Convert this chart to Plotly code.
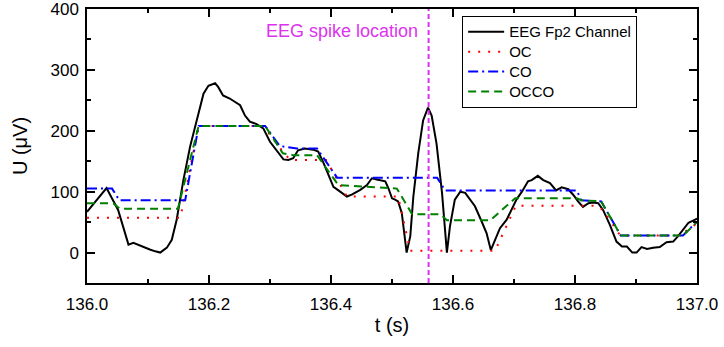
import plotly.graph_objects as go

# ---- data ----
eeg_t = [136.000, 136.032, 136.051, 136.068, 136.076, 136.090, 136.103, 136.112, 136.120, 136.131,
         136.139, 136.147, 136.158, 136.169, 136.180, 136.191, 136.199, 136.210, 136.215, 136.223,
         136.234, 136.251, 136.259, 136.267, 136.278, 136.289, 136.300, 136.314, 136.322, 136.330,
         136.338, 136.346, 136.357, 136.371, 136.379, 136.387, 136.396, 136.404, 136.415, 136.426,
         136.434, 136.448, 136.459, 136.467, 136.475, 136.489, 136.494, 136.500, 136.505, 136.510,
         136.516, 136.520, 136.524, 136.530, 136.535, 136.543, 136.551, 136.559, 136.565, 136.573,
         136.582, 136.590, 136.595, 136.603, 136.612, 136.620, 136.628, 136.636, 136.647, 136.655,
         136.662, 136.669, 136.677, 136.688, 136.696, 136.704, 136.713, 136.723, 136.729, 136.739,
         136.748, 136.759, 136.769, 136.778, 136.789, 136.797, 136.805, 136.813, 136.822, 136.830,
         136.838, 136.846, 136.857, 136.868, 136.877, 136.885, 136.894, 136.901, 136.909, 136.918,
         136.928, 136.939, 136.950, 136.961, 136.969, 136.978, 136.986, 136.997, 137.000]
eeg_u = [67, 106, 70, 13, 16, 10, 5, 2, 0, 8,
         21, 54, 119, 174, 217, 261, 274, 278, 272, 258,
         253, 242, 225, 215, 211, 204, 182, 163, 153, 152,
         155, 168, 171, 169, 166, 149, 127, 108, 100, 92,
         95, 103, 111, 122, 120, 117, 106, 89, 87, 84,
         65, 27, 0, 27, 92, 163, 217, 238, 225, 179,
         98, 0, 43, 87, 100, 98, 86, 76, 51, 32,
         4, 21, 40, 54, 70, 87, 100, 117, 119, 126,
         119, 114, 102, 107, 104, 95, 84, 75, 81, 82,
         81, 70, 46, 18, 10, 10, 0, 0, 9, 6,
         8, 9, 17, 18, 27, 38, 49, 54, 56]

oc_t = [136.000, 136.153, 136.183, 136.289, 136.318, 136.333, 136.392, 136.426, 136.510, 136.530,
        136.669, 136.703, 136.834, 136.846, 136.874, 136.972, 137.000]
oc_u = [57, 57, 208, 208, 170, 152, 152, 92, 92, 3,
        3, 77, 77, 70, 28, 28, 48]

co_t = [136.000, 136.041, 136.053, 136.161, 136.183, 136.292, 136.316, 136.344, 136.377, 136.410,
        136.574, 136.587, 136.803, 136.810, 136.843, 136.875, 136.977, 137.000]
co_u = [105, 105, 86, 86, 208, 208, 175, 171, 171, 123,
        123, 102, 102, 86, 84, 28, 28, 51]

occo_t = [136.000, 136.043, 136.054, 136.149, 136.183, 136.292, 136.321, 136.338, 136.377, 136.412,
          136.508, 136.533, 136.579, 136.590, 136.661, 136.702, 136.803, 136.810, 136.843, 136.875,
          136.977, 137.000]
occo_u = [81, 81, 72, 72, 208, 208, 163, 160, 160, 111,
          105, 63, 63, 53, 53, 89, 89, 86, 84, 28,
          28, 50]

series_names = ["EEG Fp2 Channel", "OC", "CO", "OCCO"]

spike_t = 136.56
spike_label = "EEG spike location"

FONT = "Liberation Sans, Arial, sans-serif"


def legend_name(s):
    return '<span style="font-size:15px">%s</span>' % s


fig = go.Figure()
fig.add_trace(go.Scatter(x=eeg_t, y=eeg_u, mode="lines", name=legend_name(series_names[0]),
                         line=dict(color="black", width=2)))
fig.add_trace(go.Scatter(x=oc_t, y=oc_u, mode="lines", name=legend_name(series_names[1]),
                         line=dict(color="#FF0000", width=2, dash="2px,8px")))
fig.add_trace(go.Scatter(x=co_t, y=co_u, mode="lines", name=legend_name(series_names[2]),
                         line=dict(color="#0000FF", width=2, dash="10px,4px,2px,4px")))
fig.add_trace(go.Scatter(x=occo_t, y=occo_u, mode="lines", name=legend_name(series_names[3]),
                         line=dict(color="#008000", width=2, dash="8px,5px")))

fig.add_shape(type="line", x0=spike_t, x1=spike_t, y0=0, y1=1, xref="x", yref="paper",
              line=dict(color="#DD33EE", width=2, dash="5px,3px"))
fig.add_annotation(x=spike_t, y=364, xref="x", yref="y", text=spike_label, showarrow=False,
                   xanchor="right", yanchor="middle", xshift=-9,
                   font=dict(family=FONT, size=18, color="#DD33EE"))

axis_common = dict(showgrid=False, zeroline=False, showline=True, linecolor="black",
                   linewidth=1.5, mirror="allticks", ticks="inside", ticklen=8,
                   tickwidth=1.5, tickcolor="black", automargin=False,
                   ticklabeloverflow="allow",
                   tickfont=dict(family=FONT, size=17, color="black"))

fig.update_xaxes(range=[136.0, 137.0], dtick=0.2, tick0=136.0, tickformat=".1f",
                 ticklabelstandoff=5,
                 minor=dict(ticks="inside", ticklen=4, dtick=0.1, tick0=136.0,
                            tickcolor="black", tickwidth=1.5),
                 title=dict(text="t (s)", font=dict(family=FONT, size=20, color="black"),
                            standoff=5),
                 **axis_common)
fig.update_yaxes(range=[-50, 400], dtick=100, tick0=0,
                 ticklabelstandoff=3,
                 minor=dict(ticks="inside", ticklen=4, dtick=50, tick0=0,
                            tickcolor="black", tickwidth=1.5),
                 title=dict(text="U (μV)", font=dict(family=FONT, size=20, color="black"),
                            standoff=17),
                 **axis_common)

fig.update_layout(
    width=724, height=347,
    margin=dict(l=87, r=27, t=9, b=64),
    paper_bgcolor="white", plot_bgcolor="white",
    showlegend=True,
    legend=dict(x=0.615, y=0.975, xanchor="left", yanchor="top",
                bgcolor="white", bordercolor="black", borderwidth=1,
                font=dict(family=FONT, size=13, color="black"),
                itemwidth=36, tracegroupgap=0),
    font=dict(family=FONT),
)

fig.write_html("out.html", config={"displayModeBar": False},
               post_script="document.body.style.margin='0';")
